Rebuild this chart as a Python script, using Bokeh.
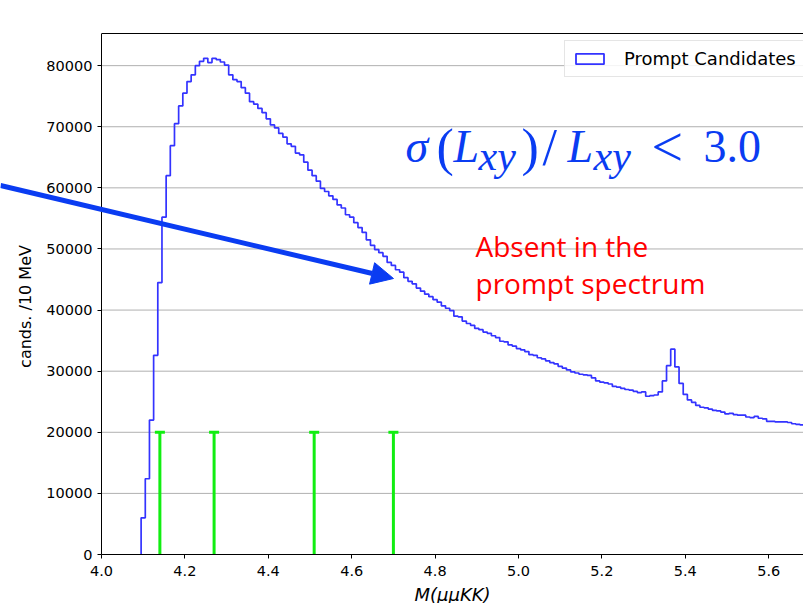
import numpy as np
from bokeh.plotting import figure
from bokeh.models import (ColumnDataSource, Range1d, LinearAxis, Label, Arrow, NormalHead,
                          Legend, LegendItem, FixedTicker, NumeralTickFormatter)
from bokeh.embed import file_html
from bokeh.resources import INLINE

# ---------------- data ----------------
bin_start = 4.095          # GeV, first bin edge
bin_width = 0.01           # 10 MeV bins
counts = [
    6000, 12400, 22000, 32600, 44500, 55200, 62000, 66900, 70500, 73400,
    75500, 77400, 78500, 80000, 80700, 81200, 80500, 81200, 81000, 80600,
    80100, 78500, 77700, 77400, 76400, 75500, 74100, 73700, 73000, 72300,
    71300, 70300, 69800, 68900, 68300, 67200, 66800, 65700, 65400, 64200,
    62900, 62000, 61100, 59900, 59400, 58700, 58100, 57200, 56700, 55600,
    55200, 54300, 53500, 52700, 51500, 50600, 49900, 49400, 48800, 47800,
    47300, 46600, 46200, 45300, 44700, 44300, 43600, 43100, 42600, 42200,
    41700, 41300, 40700, 40300, 39900, 39000, 38900, 38200, 37800, 37500,
    37000, 36800, 36400, 36200, 35800, 35500, 34900, 34800, 34300, 34100,
    33700, 33500, 33200, 32700, 32600, 32200, 32000, 31700, 31400, 31200,
    30800, 30500, 30200, 29900, 29700, 29500, 29400, 29300, 28900, 28400,
    28200, 28100, 27900, 27500, 27400, 27200, 27000, 26900, 26700, 26500,
    26600, 25900, 26000, 26100, 26600, 28400, 30900, 33600, 30700, 28000,
    26200, 25300, 24900, 24400, 24100, 24000, 23800, 23600, 23500, 23300,
    23000, 23100, 22900, 22800, 22800, 22500, 22400, 22600, 22300, 22200,
    21800, 21800, 21700, 21700, 21700, 21600, 21400, 21300, 21200,
]
marker_masses = [4.14, 4.27, 4.51, 4.70]
marker_height = 20000
x_ticks = [4.0, 4.2, 4.4, 4.6, 4.8, 5.0, 5.2, 5.4, 5.6]
y_ticks = [0, 10000, 20000, 30000, 40000, 50000, 60000, 70000, 80000]

# ---------------- layout ----------------
W, H = 803, 603
AX_LEFT_PX = 101           # pixel column of the y axis (x = 4.0)
AX_BOTTOM_PX = 554         # pixel row of the x axis (y = 0)
BT = 33                    # frame top
PX_PER_UNIT = 417.0
X_AXIS0 = 4.0
XS = X_AXIS0 - AX_LEFT_PX / PX_PER_UNIT
XE = X_AXIS0 + (W - AX_LEFT_PX) / PX_PER_UNIT
Y_TOP = 85260
UNITS_PER_PX_Y = Y_TOP / (AX_BOTTOM_PX - BT)
YS = -(H - AX_BOTTOM_PX) * UNITS_PER_PX_Y

def px2x(px):
    return XS + px / PX_PER_UNIT

def py2y(py):
    return Y_TOP - (py - BT) * UNITS_PER_PX_Y

HIST = "#3333ff"
ABLUE = "#0a3cf2"
GREEN = "#11ee11"
FONT = "DejaVu Sans"

p = figure(width=W, height=H, x_range=Range1d(XS, XE), y_range=Range1d(YS, Y_TOP),
           output_backend="svg", toolbar_location=None,
           min_border_left=0, min_border_right=0, min_border_top=BT, min_border_bottom=0)
p.outline_line_color = None
p.background_fill_color = "white"
p.border_fill_color = "white"

# axes
for ax in (p.xaxis[0], p.yaxis[0]):
    ax.axis_line_color = "black"
    ax.axis_line_width = 1
    ax.major_tick_line_color = "black"
    ax.major_tick_out = 4
    ax.major_tick_in = 0
    ax.minor_tick_line_color = None
    ax.major_label_text_font = FONT
    ax.major_label_text_font_size = "14.5px"
    ax.major_label_text_color = "black"
    ax.axis_label_text_font = FONT
    ax.axis_label_text_color = "black"

p.xaxis.ticker = FixedTicker(ticks=x_ticks)
p.xaxis.formatter = NumeralTickFormatter(format="0.0")
p.xaxis.fixed_location = 0
p.xaxis.bounds = (X_AXIS0, XE)
p.xaxis.axis_label = "M(μμKK)"
p.xaxis.axis_label_text_font_style = "italic"
p.xaxis.axis_label_text_font_size = "18px"
p.xaxis.major_label_standoff = 7
p.xaxis.axis_label_standoff = 5

p.yaxis.ticker = FixedTicker(ticks=y_ticks)
p.yaxis.formatter = NumeralTickFormatter(format="0")
p.yaxis.fixed_location = X_AXIS0
p.yaxis.bounds = (0, Y_TOP)
p.yaxis.major_label_standoff = 5

# y axis title placed as a rotated label (as in the reference, slightly below centre)
p.add_layout(Label(x=px2x(25), y=py2y(306), text="cands. /10 MeV", angle=np.pi / 2,
                   text_align="center", text_baseline="middle", text_font=FONT,
                   text_font_size="16px", text_color="black"))

top_axis = LinearAxis(ticker=FixedTicker(ticks=[]), axis_line_color="black", axis_line_width=1,
                      major_tick_line_color=None, minor_tick_line_color=None,
                      major_label_text_color=None, bounds=(X_AXIS0, XE))
p.add_layout(top_axis, "above")

p.xgrid.visible = False
p.ygrid.visible = False
yt = np.array(y_ticks[1:], dtype=float)
p.segment(x0=np.full_like(yt, X_AXIS0), y0=yt, x1=np.full_like(yt, XE), y1=yt,
          line_color="#b0b0b0", line_width=1, level="underlay")

# histogram outline (step)
vals = np.array(counts, dtype=float)
edges = bin_start + bin_width * np.arange(len(vals) + 1)
xs = np.concatenate([[edges[0]], [edges[0]], np.repeat(edges[1:-1], 2), [edges[-1]]])
ys = np.concatenate([[0.0], np.repeat(vals, 2)])
p.line(xs, ys, line_color=HIST, line_width=1.7)

# green markers
mm = np.array(marker_masses)
cap = 0.012
p.segment(x0=mm, y0=np.zeros_like(mm), x1=mm, y1=np.full_like(mm, marker_height),
          line_color=GREEN, line_width=3)
p.segment(x0=mm - cap, y0=np.full_like(mm, marker_height), x1=mm + cap,
          y1=np.full_like(mm, marker_height), line_color=GREEN, line_width=3)

# legend: outline-only bins of the histogram on a range that keeps them out of view,
# so only the legend patch is visible
p.extra_y_ranges = {"legend_only": Range1d(-3e6, -2e6)}
hist_src = ColumnDataSource(dict(left=edges[:-1], right=edges[1:], top=vals,
                                 bottom=np.zeros_like(vals)))
r_leg = p.quad(left="left", right="right", top="top", bottom="bottom", source=hist_src,
               y_range_name="legend_only",
               fill_color=None, line_color=HIST, line_width=1.8)
frame_h = H - BT
leg_h = 34
legend = Legend(items=[LegendItem(label="Prompt Candidates", renderers=[r_leg])],
                location=(564, frame_h - 10 - leg_h), glyph_width=35, glyph_height=13,
                label_standoff=17, padding=7, margin=0, spacing=0, label_width=230,
                label_height=20,
                label_text_font=FONT, label_text_font_size="18px", label_text_color="black",
                border_line_color="#cccccc", border_line_width=1,
                background_fill_color="white", background_fill_alpha=0.85)
p.add_layout(legend)

# arrow
p.add_layout(Arrow(end=NormalHead(size=22, fill_color=ABLUE, line_color=ABLUE),
                   x_start=px2x(0), y_start=py2y(185), x_end=px2x(393), y_end=py2y(278),
                   line_color=ABLUE, line_width=5))

# title
p.add_layout(Label(x=px2x(448), y=py2y(19), text="Prompt", text_align="right",
                   text_baseline="middle", text_font=FONT, text_font_size="17px", text_color="black"))
p.add_layout(Label(x=px2x(453), y=py2y(19), text="μμKK", text_align="left",
                   text_baseline="middle", text_font=FONT, text_font_size="17px",
                   text_font_style="italic", text_color="black"))

# formula sigma(Lxy)/Lxy < 3.0
SERIF = "Liberation Serif"
pieces = [
    ("σ", 405, 146, 46, "italic"),
    ("(", 436, 147, 52, "normal"),
    ("L", 453, 146, 46, "italic"),
    ("xy", 478, 155, 42, "italic"),
    (")", 521, 147, 52, "normal"),
    ("/", 542, 147, 52, "normal"),
    ("L", 567, 146, 46, "italic"),
    ("xy", 593, 155, 42, "italic"),
    ("<", 651, 146, 56, "normal"),
    ("3.0", 703, 146, 46, "normal"),
]
for txt, px, py, fs, st in pieces:
    p.add_layout(Label(x=px2x(px), y=py2y(py), text=txt, text_align="left",
                       text_baseline="middle", text_font=SERIF, text_font_size=f"{fs}px",
                       text_font_style=st, text_color=ABLUE))

# red annotation
for txt, py in (("Absent in the", 245), ("prompt spectrum", 282)):
    p.add_layout(Label(x=px2x(475), y=py2y(py), text=txt, text_align="left",
                       text_baseline="middle", text_font="Open Sans", text_font_size="28px",
                       text_color="#ff0000"))

open("out.html", "w").write(file_html(p, INLINE))
